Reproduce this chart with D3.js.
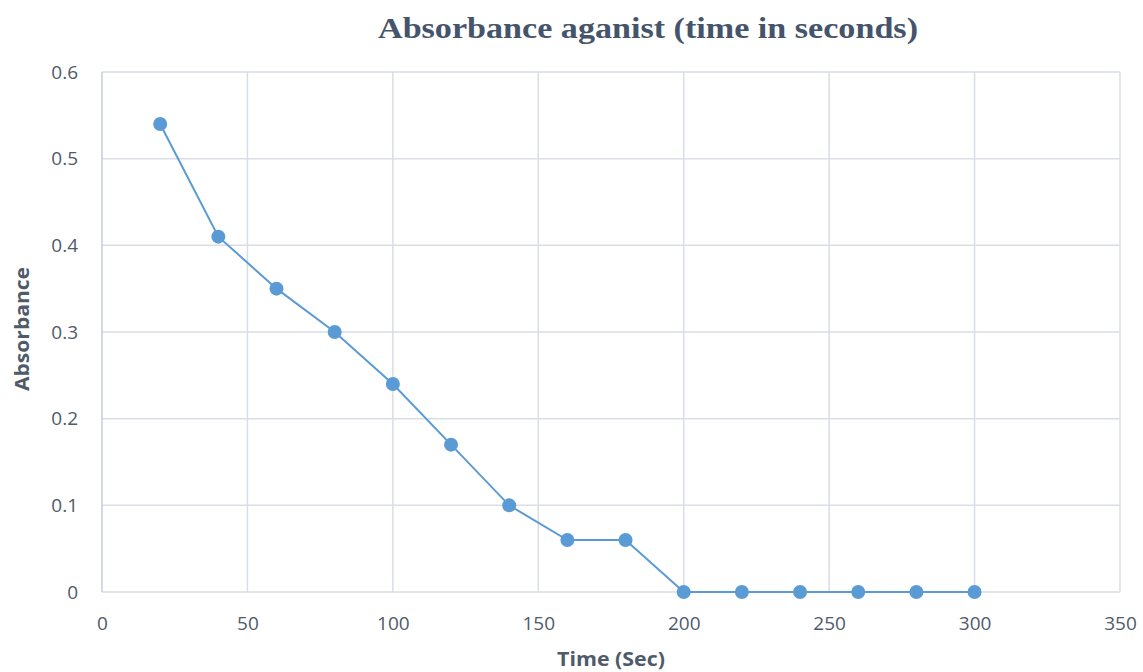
<!DOCTYPE html>
<html>
<head>
<meta charset="utf-8">
<script src="https://cdn.jsdelivr.net/npm/d3@7"></script>
<style>
  body { margin: 0; background: #fff; }
  .chart { width: 1143px; height: 672px; overflow: hidden; }
</style>
</head>
<body>
<div class="chart"></div>
<script>
// chart data
var timeSec = [20, 40, 60, 80, 100, 120, 140, 160, 180, 200, 220, 240, 260, 280, 300];
var absorbance = [0.54, 0.41, 0.35, 0.30, 0.24, 0.17, 0.10, 0.06, 0.06, 0, 0, 0, 0, 0, 0];
var xTicks = [0, 50, 100, 150, 200, 250, 300, 350];
var yTicks = [0, 0.1, 0.2, 0.3, 0.4, 0.5, 0.6];

var svgWidth = 1143;
var svgHeight = 672;
var margin = { top: 72, right: 23, bottom: 80, left: 102 };
var width = svgWidth - margin.left - margin.right;
var height = svgHeight - margin.top - margin.bottom;

var gridColor = "#d9dde6";
var textColor = "#4f5a6b";
var blue = "#5b9bd5";

var svg = d3.select(".chart")
  .append("svg")
  .attr("width", svgWidth)
  .attr("height", svgHeight);

var chart = svg.append("g")
  .attr("transform", "translate(" + margin.left + "," + margin.top + ")");

var x = d3.scaleLinear().domain([0, 350]).range([0, width]);
var y = d3.scaleLinear().domain([0, 0.6]).range([height, 0]);

// gridlines
chart.append("g")
  .selectAll("line.h")
  .data(yTicks)
  .enter().append("line")
    .attr("x1", 0)
    .attr("x2", width)
    .attr("y1", function(d) { return y(d); })
    .attr("y2", function(d) { return y(d); })
    .attr("stroke", gridColor)
    .attr("stroke-width", 1.5);

chart.append("g")
  .selectAll("line.v")
  .data(xTicks)
  .enter().append("line")
    .attr("x1", function(d) { return x(d); })
    .attr("x2", function(d) { return x(d); })
    .attr("y1", 0)
    .attr("y2", height)
    .attr("stroke", function(d) { return d === 0 ? "#c5ccd8" : gridColor; })
    .attr("stroke-width", 1.5);

// axes (labels only)
var xAxis = chart.append("g")
  .attr("transform", "translate(0," + height + ")")
  .call(d3.axisBottom(x).tickValues(xTicks).tickSize(0).tickPadding(25));

var yAxis = chart.append("g")
  .call(d3.axisLeft(y).tickValues(yTicks).tickSize(0).tickPadding(24)
    .tickFormat(function(d) { return d === 0 ? "0" : d3.format(".1f")(d); }));

[xAxis, yAxis].forEach(function(a) {
  a.select(".domain").remove();
  a.selectAll("text")
    .attr("fill", textColor)
    .style("font-family", "'Open Sans', 'Liberation Sans', sans-serif")
    .style("font-size", "19px");
});

// line + markers
var line = d3.line()
  .x(function(d, i) { return x(timeSec[i]); })
  .y(function(d) { return y(d); });

chart.append("path")
  .attr("d", line(absorbance))
  .attr("fill", "none")
  .attr("stroke", blue)
  .attr("stroke-width", 2);

chart.selectAll("circle")
  .data(absorbance)
  .enter().append("circle")
    .attr("cx", function(d, i) { return x(timeSec[i]); })
    .attr("cy", function(d) { return y(d); })
    .attr("r", 7)
    .attr("fill", blue);

// titles
svg.append("text")
  .attr("x", 648)
  .attr("y", 38)
  .attr("text-anchor", "middle")
  .attr("fill", "#44546a")
  .attr("textLength", 540)
  .attr("lengthAdjust", "spacingAndGlyphs")
  .style("font-family", "'Liberation Serif', 'DejaVu Serif', serif")
  .style("font-weight", "bold")
  .style("font-size", "30px")
  .text("Absorbance aganist (time in seconds)");

svg.append("text")
  .attr("transform", "translate(29,329) rotate(-90)")
  .attr("text-anchor", "middle")
  .attr("fill", textColor)
  .style("font-family", "'Open Sans', 'Liberation Sans', sans-serif")
  .style("font-weight", "bold")
  .style("font-size", "20px")
  .attr("textLength", 124)
  .attr("lengthAdjust", "spacingAndGlyphs")
  .text("Absorbance");

svg.append("text")
  .attr("x", 611)
  .attr("y", 666)
  .attr("text-anchor", "middle")
  .attr("fill", textColor)
  .style("font-family", "'Open Sans', 'Liberation Sans', sans-serif")
  .style("font-weight", "bold")
  .style("font-size", "19px")
  .attr("textLength", 108)
  .attr("lengthAdjust", "spacingAndGlyphs")
  .text("Time (Sec)");
</script>
</body>
</html>
